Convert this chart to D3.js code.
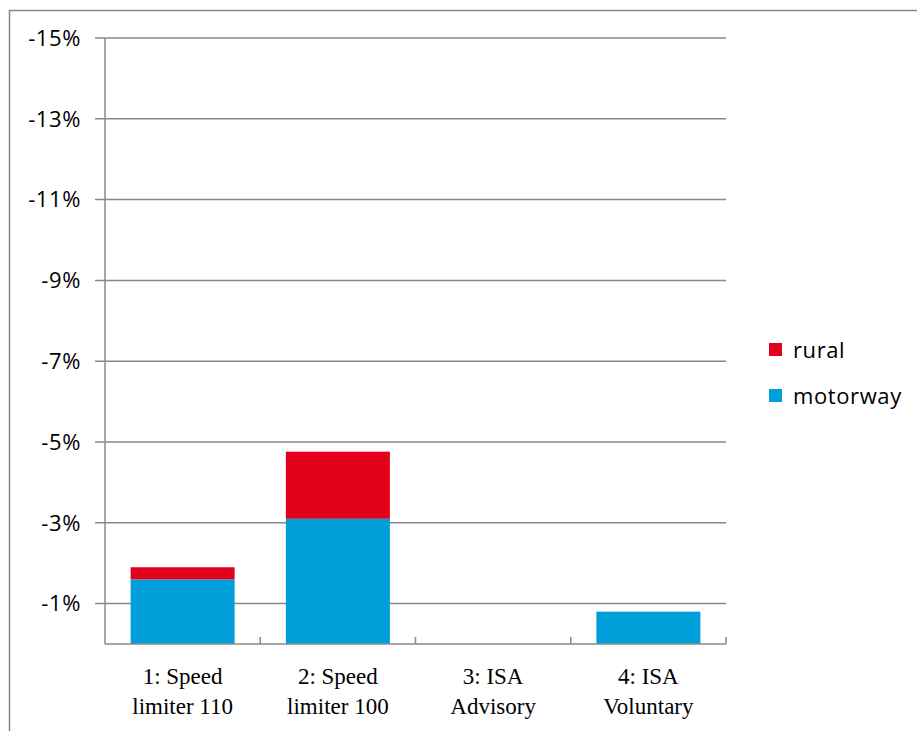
<!DOCTYPE html>
<html>
<head>
<meta charset="utf-8">
<script src="https://cdn.jsdelivr.net/npm/d3@7"></script>
<style>
  body { margin: 0; background: #fff; }
  svg { display: block; }
</style>
</head>
<body>
<div id="chart"></div>
<script>
// chart values (negative percent change)
const categories = ["1: Speed|limiter 110", "2: Speed|limiter 100", "3: ISA|Advisory", "4: ISA|Voluntary"];
const motorway = [-1.6, -3.1, 0, -0.8];
const rural = [-0.3, -1.66, 0, 0];
const yTicks = [-1, -3, -5, -7, -9, -11, -13, -15];
const seriesNames = ["rural", "motorway"];
const seriesColors = ["#e2001a", "#009fda"];

const width = 917, height = 731;
const margin = { top: 38, right: 191, bottom: 87, left: 105 };

const svg = d3.select("#chart")
    .append("svg")
    .attr("width", width)
    .attr("height", height);

// outer frame
svg.append("rect")
    .attr("x", 9.5).attr("y", 10.5)
    .attr("width", 920).attr("height", 740)
    .attr("fill", "none")
    .attr("stroke", "#888")
    .attr("stroke-width", 1.5);

const x = d3.scaleBand()
    .domain(categories)
    .range([margin.left, width - margin.right])
    .paddingInner(0.33)
    .paddingOuter(0.165);

const y = d3.scaleLinear()
    .domain([0, -15])
    .range([height - margin.bottom, margin.top]);

// gridlines
svg.append("g")
    .selectAll("line")
    .data(yTicks)
    .enter()
    .append("line")
    .attr("x1", margin.left - 10)
    .attr("x2", width - margin.right)
    .attr("y1", d => y(d))
    .attr("y2", d => y(d))
    .attr("stroke", "#888")
    .attr("stroke-width", 1.5);

// y tick labels
svg.append("g")
    .selectAll("text")
    .data(yTicks)
    .enter()
    .append("text")
    .attr("x", 81)
    .attr("y", d => y(d))
    .attr("dy", "0.35em")
    .attr("text-anchor", "end")
    .style("font-family", "'Open Sans', 'Noto Sans', sans-serif")
    .style("font-size", "22px")
    .style("letter-spacing", "0.6px")
    .attr("fill", "#000")
    .text(d => d + "%");

// stacked bars
const stackData = categories.map((c, i) => ({ cat: c, motorway: motorway[i], rural: rural[i] }));
const stack = d3.stack().keys(["motorway", "rural"])
    .offset(d3.stackOffsetDiverging);
const layers = stack(stackData);
const color = d3.scaleOrdinal().domain(seriesNames).range(seriesColors);

svg.append("g")
    .selectAll("g")
    .data(layers)
    .enter()
    .append("g")
    .attr("fill", d => color(d.key))
    .selectAll("rect")
    .data(d => d)
    .enter()
    .append("rect")
    .attr("x", d => x(d.data.cat))
    .attr("width", x.bandwidth())
    .attr("y", d => y(d[0]))
    .attr("height", d => Math.max(0, y(d[1]) - y(d[0])));

// axes lines
const x0 = margin.left, x1 = width - margin.right, yb = y(0);
svg.append("line")
    .attr("x1", x0).attr("x2", x0)
    .attr("y1", margin.top).attr("y2", yb)
    .attr("stroke", "#888").attr("stroke-width", 1.5);
svg.append("line")
    .attr("x1", x0).attr("x2", x1)
    .attr("y1", yb).attr("y2", yb)
    .attr("stroke", "#888").attr("stroke-width", 1.5);

// category ticks between bands
const step = (x1 - x0) / categories.length;
svg.append("g")
    .selectAll("line")
    .data(d3.range(1, categories.length + 1))
    .enter()
    .append("line")
    .attr("x1", d => x0 + d * step)
    .attr("x2", d => x0 + d * step)
    .attr("y1", yb)
    .attr("y2", yb - 7)
    .attr("stroke", "#888").attr("stroke-width", 1.5);

// category labels
const lab = svg.append("g")
    .selectAll("text")
    .data(categories)
    .enter()
    .append("text")
    .attr("text-anchor", "middle")
    .style("font-family", "'Liberation Serif', 'DejaVu Serif', serif")
    .style("font-size", "23px")
    .attr("fill", "#000");
lab.each(function (d) {
    const parts = d.split("|");
    const cx = x(d) + x.bandwidth() / 2;
    d3.select(this).selectAll("tspan")
        .data(parts)
        .enter()
        .append("tspan")
        .attr("x", cx)
        .attr("y", (p, i) => 684 + i * 30)
        .text(p => p);
});

// legend
const legend = svg.append("g")
    .selectAll("g")
    .data(seriesNames)
    .enter()
    .append("g")
    .attr("transform", (d, i) => "translate(769," + (343 + i * 46) + ")");
legend.append("rect")
    .attr("width", 13).attr("height", 13)
    .attr("fill", d => color(d));
legend.append("text")
    .attr("x", 24)
    .attr("y", 7)
    .attr("dy", "0.35em")
    .style("font-family", "'Open Sans', 'Noto Sans', sans-serif")
    .style("font-size", "22px")
    .style("letter-spacing", "0.6px")
    .attr("fill", "#000")
    .text(d => d);
</script>
</body>
</html>
